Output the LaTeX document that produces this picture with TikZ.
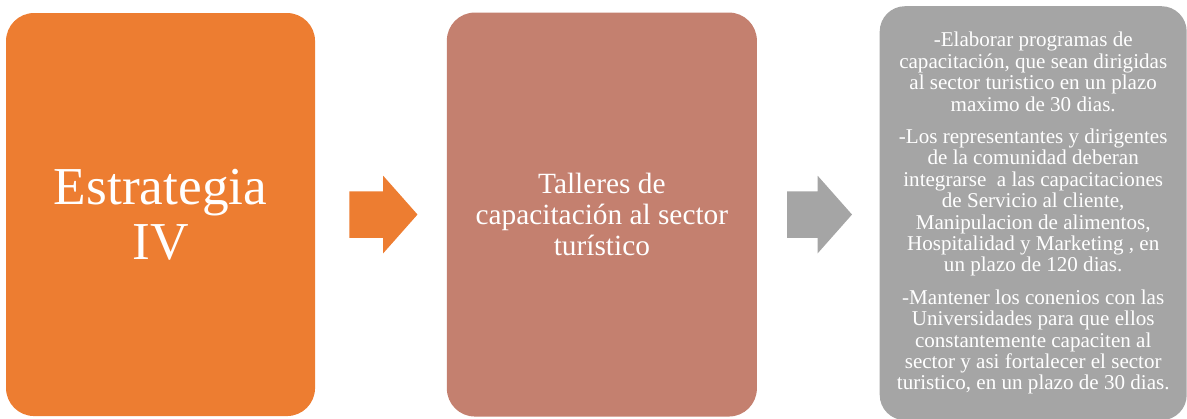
\documentclass[tikz,border=0pt]{standalone}
\usepackage{fontspec}
\setmainfont{Liberation Serif}
\usetikzlibrary{shapes.arrows, positioning}
\definecolor{accentorange}{HTML}{ED7D31}
\definecolor{accentrose}{HTML}{C4806F}
\definecolor{accentgray}{HTML}{A5A5A5}
\tikzstyle{stage} = [rectangle, rounded corners=21pt, text centered, text=white, inner sep=0pt, align=center]
\tikzstyle{pointer} = [single arrow, single arrow head extend=11.6pt, single arrow tip angle=97, inner xsep=0pt, inner ysep=17.25pt]

\begin{document}
\begin{tikzpicture}[node distance=164pt]

\useasboundingbox (0,0) rectangle (890.25pt,-313.5pt);

\node (0) [stage, fill=accentorange, minimum width=231.75pt, minimum height=302.25pt, font=\fontsize{40}{41.25}\selectfont] at (120.4pt,-160.9pt) {Estrategia\\IV};
\node (1) [pointer, fill=accentorange, minimum height=51pt, right of=0, xshift=-4.5pt] {};
\node (2) [stage, fill=accentrose, minimum width=232.5pt, minimum height=303pt, font=\fontsize{22}{23.5}\selectfont, right of=1, xshift=7.5pt] {Talleres de\\capacitación al sector\\turístico};
\node (3) [pointer, fill=accentgray, minimum height=48.75pt, right of=2, xshift=-8.5pt] {};
\node (4) [stage, fill=accentgray, minimum width=230.25pt, minimum height=310.5pt, rounded corners=19pt, font=\fontsize{15.8}{16.1}\selectfont, right of=3, xshift=4pt, yshift=1pt] {-Elaborar programas de\\capacitación, que sean dirigidas\\al sector turistico en un plazo\\maximo de 30 dias.\\[8pt]-Los representantes y dirigentes\\de la comunidad deberan\\integrarse\ \ a las capacitaciones\\de Servicio al cliente,\\Manipulacion de alimentos,\\Hospitalidad y Marketing , en\\un plazo de 120 dias.\\[8pt]-Mantener los conenios con las\\Universidades para que ellos\\constantemente capaciten al\\sector y asi fortalecer el sector\\turistico, en un plazo de 30 dias.};

\end{tikzpicture}
\end{document}
